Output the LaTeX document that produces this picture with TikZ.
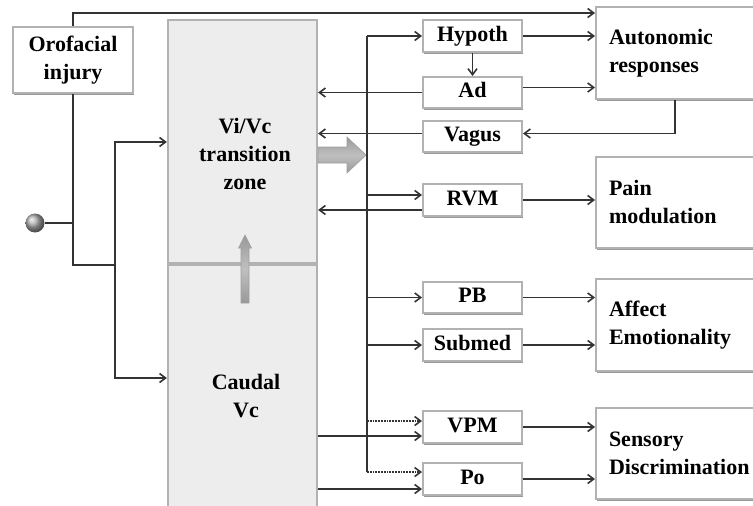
\documentclass[tikz,border=0pt]{standalone}
\usepackage{fontspec}
\setmainfont{Liberation Serif}
\usetikzlibrary{arrows.meta,shadows,calc}
\begin{document}
\begin{tikzpicture}[x=1pt,y=-1pt,
  font=\fontsize{22}{28}\selectfont\bfseries,
  line/.style={line width=1.8pt, draw=black!80},
  arr/.style={line, -{Straight Barb[length=6pt,width=9pt,line width=1.6pt]}},
  darr/.style={arr, densely dotted},
  shade/.style={drop shadow={shadow xshift=1pt, shadow yshift=-1.5pt, fill=gray!80, opacity=1}},
  sbox/.style={shade, draw=gray!60, line width=2pt, fill=white, minimum width=99pt,
    minimum height=32pt, inner sep=0pt, text height=14pt, text depth=4pt},
  bbox/.style={shade, draw=gray!60, line width=2pt, fill=white, minimum width=174pt,
    text width=148pt, inner xsep=13pt, align=left},
  mbox/.style={draw=gray!60, line width=2.2pt, fill=gray!14, minimum width=149pt, inner sep=0pt},
  txt/.style={align=center, inner sep=0pt},
  fat/.style={draw=gray!75, line width=0.6pt, top color=gray!80, bottom color=gray!80, middle color=gray!50}
]
\useasboundingbox (0,0) rectangle (753,506);

% main column
\node[mbox, minimum height=243pt] (vi) at (242.5,141.5) {};
\node[mbox, minimum height=255pt] (cv) at (242.5,392.5) {};
\node[txt] (vitxt) at (245,154) {Vi/Vc\\transition\\zone};
\node[txt] (cvtxt) at (246,396) {Caudal\\Vc};

% injury
\node[shade, draw=gray!60, line width=2pt, fill=white, minimum width=120pt, minimum height=66pt,
  align=center, inner sep=0pt] (oro) at (73,60) {Orofacial\\injury};
\node[circle, minimum size=19pt, inner sep=0pt, shading=ball, ball color=gray!65] (ball) at (35,223) {};

% relay boxes
\node[sbox] (hyp) at (472.5,36) {Hypoth};
\node[sbox, minimum height=31pt] (ad) at (472.5,92.5) {Ad};
\node[sbox, minimum height=31pt] (vag) at (472.5,136.5) {Vagus};
\node[sbox] (rvm) at (472.5,200) {RVM};
\node[sbox, minimum height=31pt] (pb) at (472.5,297.5) {PB};
\node[sbox] (sub) at (472.5,345) {Submed};
\node[sbox] (vpm) at (472.5,427) {VPM};
\node[sbox] (po) at (472.5,479) {Po};

% output boxes
\node[bbox, minimum height=92pt] (aut) at (683,53) {Autonomic\\responses};
\node[bbox, minimum height=91pt] (pain) at (683,202.5) {Pain\\modulation};
\node[bbox, minimum height=92pt] (aff) at (683,325) {Affect\\Emotionality};
\node[bbox, minimum height=91pt] (sens) at (683,453.5) {Sensory\\Discrimination};

% thick arrows
\path[fat] (vi.east |- 0,147) -- (347,147) -- (347,137) -- (366,155) -- (347,173) -- (347,163) -- (vi.east |- 0,163) -- cycle;
\path[fat] (241,303) -- (241,248) -- (238.5,248) -- (245,235) -- (251.5,248) -- (249,248) -- (249,303) -- cycle;

% left side connectors
\coordinate (t) at (0,13);
\coordinate (j2) at (115,265);
\coordinate (a1) at (115,142);
\coordinate (a2) at (115,378);
\draw[arr] (oro.north) |- (t -| aut.west);
\draw[line] (oro.south) |- (j2);
\draw[line] (ball.east) -- (ball -| oro.south);
\draw[arr] (j2) -- (a1) -- (a1 -| vi.west);
\draw[arr] (j2) -- (a2) -- (a2 -| cv.west);

% bus
\coordinate (bx) at (367,0);
\coordinate (r1) at ($(rvm.west)+(0,-5)$);
\coordinate (r2) at ($(rvm.west)+(0,10)$);
\coordinate (v1) at ($(vag.west)+(0,-3)$);
\coordinate (d1) at ($(vpm.west)+(0,-6)$);
\coordinate (s1) at ($(vpm.west)+(0,9)$);
\coordinate (d2) at ($(po.west)+(0,-7)$);
\coordinate (s2) at ($(po.west)+(0,10)$);
\draw[line] (bx |- hyp.west) -- (bx |- d2);
\draw[arr] (bx |- hyp.west) -- (hyp.west);
\draw[arr] (bx |- r1) -- (r1);
\draw[arr] (bx |- pb.west) -- (pb.west);
\draw[arr] (bx |- sub.west) -- (sub.west);
\draw[darr] (bx |- d1) -- (d1);
\draw[darr] (bx |- d2) -- (d2);
\draw[arr] (cv.east |- s1) -- (s1);
\draw[arr] (cv.east |- s2) -- (s2);

% back to Vi/Vc
\draw[arr] (ad.west) -- (ad.west -| vi.east);
\draw[arr] (v1) -- (v1 -| vi.east);
\draw[arr] (r2) -- (r2 -| vi.east);

% right side
\coordinate (ad1) at ($(ad.east)+(0,-5)$);
\draw[arr] (hyp.south) -- (ad.north);
\draw[arr] (hyp.east) -- (hyp.east -| aut.west);
\draw[arr] (ad1) -- (ad1 -| aut.west);
\draw[arr] ($(aut.south)+(-8,0)$) |- ($(vag.east)+(0,-3)$);
\draw[arr] (rvm.east) -- (rvm.east -| pain.west);
\draw[arr] (pb.east) -- (pb.east -| aff.west);
\draw[arr] (sub.east) -- (sub.east -| aff.west);
\draw[arr] (vpm.east) -- (vpm.east -| sens.west);
\draw[arr] (po.east) -- (po.east -| sens.west);
\end{tikzpicture}
\end{document}
